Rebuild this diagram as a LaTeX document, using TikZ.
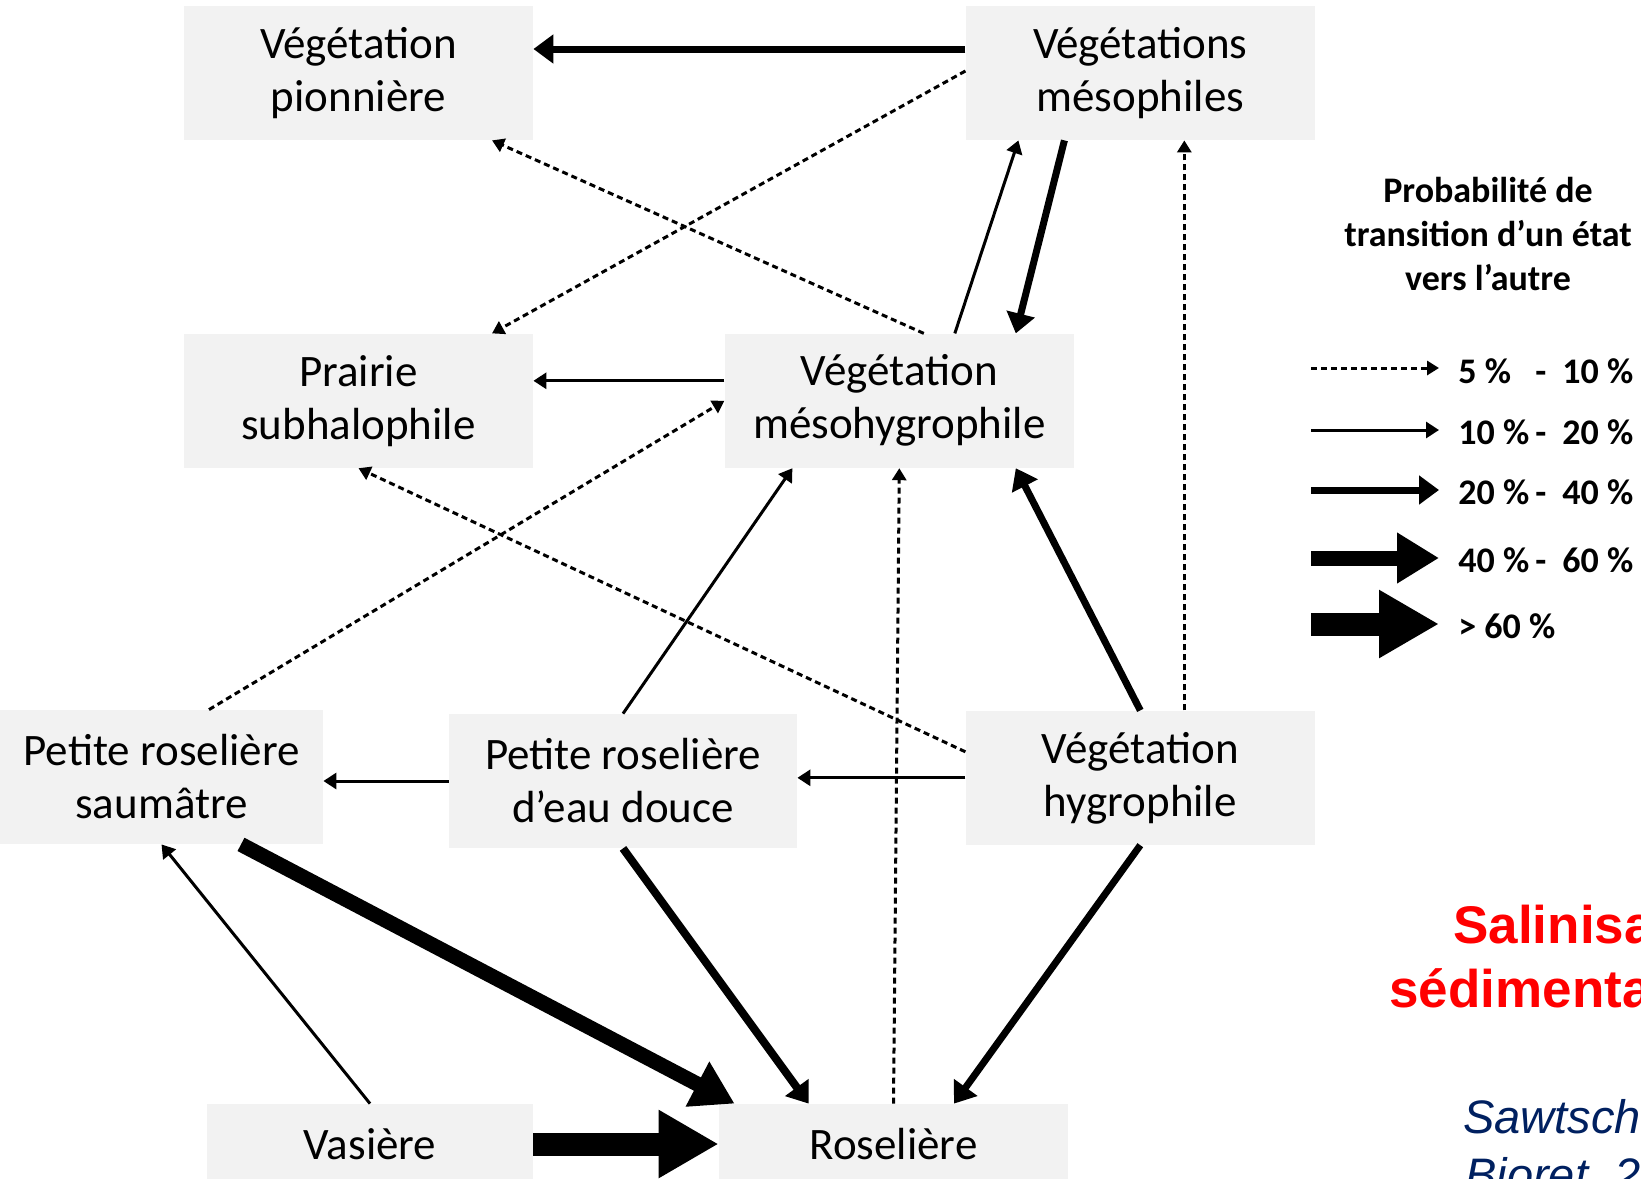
\documentclass[tikz,border=0pt]{standalone}
\usepackage{fontspec}
\setmainfont{Carlito}
\newfontfamily\arialfont{Liberation Sans}
\usetikzlibrary{arrows.meta,positioning,calc}
\definecolor{fondgris}{RGB}{242,242,242}
\definecolor{rougesal}{RGB}{255,0,0}
\definecolor{bleuref}{RGB}{0,32,96}
\newcommand{\proba}[2]{\makebox[38.5pt][l]{#1}\makebox[13.5pt][l]{-}#2}

\begin{document}
\begin{tikzpicture}[x=0.5pt,y=-0.5pt,
	etat/.style={fill=fondgris,minimum width=174.5pt,minimum height=67pt,inner sep=0pt,align=center,font=\fontsize{22.5pt}{26.5pt}\selectfont},
	p5/.style={line width=1.5pt,dash pattern=on 3pt off 2pt,-{Triangle[length=6pt,width=7pt]}},
	p10/.style={line width=1.5pt,-{Triangle[length=6.5pt,width=8pt]}},
	p20/.style={line width=3.5pt,-{Triangle[length=10pt,width=14pt]}},
	p40/.style={line width=7.5pt,-{Triangle[length=21pt,width=24pt]}},
	p60/.style={line width=11.5pt,-{Triangle[length=30pt,width=32pt]}},
	leg/.style={anchor=west,inner sep=0pt,font=\bfseries\fontsize{18pt}{22pt}\selectfont}]
	\useasboundingbox (0,0) rectangle (1641,1178);
	%
	\node[etat] (pion) at (358.5,73) {Végétation\\pionnière};
	\node[etat,right=216pt of pion] (meso) {Végétations\\mésophiles};
	\node[etat,below=96.5pt of pion] (prairie) {Prairie\\subhalophile};
	\node[etat,right=95.5pt of prairie] (mesohyg) {Végétation\\mésohygrophile};
	\node[etat,below=285pt of meso] (hyg) {Végétation\\hygrophile};
	\node[etat,minimum width=161.5pt] (saum) at (161.5,777) {Petite roselière\\saumâtre};
	\node[etat,minimum width=174pt] (douce) at (623,781) {Petite roselière\\d'eau douce};
	\node[etat,minimum width=163pt,minimum height=40pt] (vas) at (370,1144) {Vasière};
	\node[etat,minimum height=40pt] (ros) at (893.5,1144) {Roselière};
	%
	\draw[p20] ($(meso.west)+(0,-24)$) -- ($(pion.east)+(0,-24)$);
	\draw[p5] ($(meso.west)+(0,-2)$) -- ($(prairie.north)+(133.5,0)$);
	\draw[p5] ($(mesohyg.north)+(24.5,0)$) -- ($(pion.south)+(133.5,0)$);
	\draw[p10] ($(mesohyg.north)+(55.5,0)$) -- ($(meso.south west)+(53,0)$);
	\draw[p20] ($(meso.south west)+(99,0)$) -- ($(mesohyg.north)+(116.5,0)$);
	\draw[p5] ($(hyg.north)+(44,0)$) -- ($(meso.south)+(44,0)$);
	\draw[p10] ($(mesohyg.west)+(0,-20)$) -- ($(prairie.east)+(0,-20)$);
	\draw[p5] ($(saum.north)+(47.5,0)$) -- (mesohyg.west);
	\draw[p5] ($(hyg.west)+(0,-26)$) -- (prairie.south);
	\draw[p10] (douce.north) -- ($(mesohyg.south west)+(68,0)$);
	\draw[p5] (ros.north) -- (mesohyg.south);
	\draw[p20] (hyg.north) -- ($(mesohyg.south)+(116.5,0)$);
	\draw[p10] (douce.west) -- (douce.west -| saum.east);
	\draw[p10] (hyg.west) -- (hyg.west -| douce.east);
	\draw[p40] ($(saum.south)+(79.5,0)$) -- ($(ros.north west)+(16,0)$);
	\draw[p20,line width=4pt] (douce.south) -- ($(ros.north west)+(90,0)$);
	\draw[p60] (vas.east) -- (ros.west);
	\draw[p10] (vas.north) -- (saum.south);
	\draw[p20] (hyg.south) -- ($(ros.north)+(60.5,0)$);
	%
	\node[font=\bfseries\fontsize{18pt}{22pt}\selectfont,align=center] (titre) at (1488,234) {Probabilité de\\transition d'un état\\vers l'autre};
	\foreach \n/\y/\st in {1/368/p5,2/430/p10,3/490/p20,4/558/p40,5/624/p60} {
		\coordinate (g\n) at (1311,\y);
		\coordinate (d\n) at (1439,\y);
		\draw[\st] (g\n) -- (d\n);
	}
	\node[leg] (e1) at (1458,371) {\proba{5 \%}{10 \%}};
	\node[leg] (e2) at (1458,432) {\proba{10 \%}{20 \%}};
	\node[leg] (e3) at (1458,492) {\proba{20 \%}{40 \%}};
	\node[leg] (e4) at (1458,560) {\proba{40 \%}{60 \%}};
	\node[leg] (e5) at (1458,626) {\textgreater{} 60 \%};
	%
	\node[anchor=base west,inner sep=0pt,text=rougesal,font=\arialfont\bfseries\fontsize{26.5pt}{32pt}\selectfont] (sal) at (1453,943) {Salinisa};
	\node[anchor=base west,inner sep=0pt,text=rougesal,font=\arialfont\bfseries\fontsize{26.5pt}{32pt}\selectfont] (sed) at (1389,1007) {sédimenta};
	\node[anchor=base west,inner sep=0pt,text=bleuref,font=\arialfont\itshape\fontsize{23.5pt}{29pt}\selectfont] (saw) at (1463,1133) {Sawtsch};
	\node[anchor=base west,inner sep=0pt,text=bleuref,font=\arialfont\itshape\fontsize{23.5pt}{29pt}\selectfont] (bio) at (1465,1191) {Bioret, 2};
\end{tikzpicture}
\end{document}
